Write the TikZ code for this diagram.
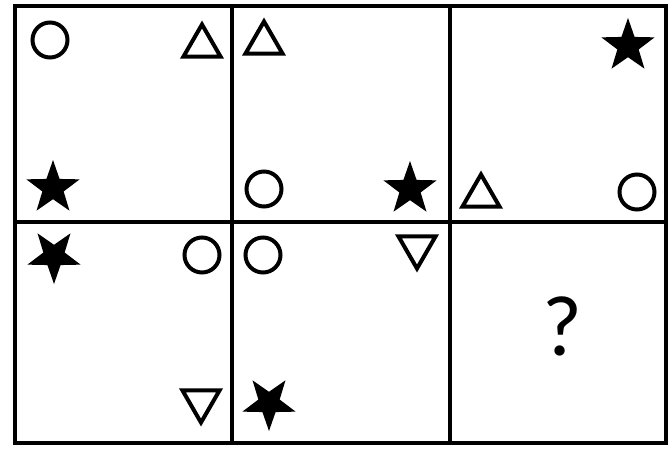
\documentclass[tikz,border=0pt]{standalone}
\usepackage{fontspec}
\setmainfont{Carlito}
\usetikzlibrary{shapes.geometric}

\begin{document}
\begin{tikzpicture}[
    x={(1pt,0pt)},
    y={(0pt,-1pt)},
    line join=miter,
    grid/.style={line width=3.6pt},
    circ/.style={circle,draw,line width=4pt,inner sep=0pt,minimum size=35pt},
    triup/.style={regular polygon,regular polygon sides=3,draw,line width=4pt,
        inner sep=0pt,minimum size=43pt},
    tridown/.style={triup,shape border rotate=180},
    starup/.style={star,star points=5,star point ratio=2.5,fill,inner sep=0pt,
        minimum size=56pt},
    stardown/.style={starup,shape border rotate=180},
    qmark/.style={inner sep=0pt,font=\fontsize{86}{86}\selectfont}
]

% =========================================================
% Рамка
% =========================================================

\useasboundingbox (0,0) rectangle (669,457);

\def\xa{15}    % левый край
\def\xb{232}   % первая вертикаль
\def\xc{450}   % вторая вертикаль
\def\xd{666}   % правый край
\def\ya{6}     % верх
\def\yb{222}   % середина
\def\yc{443}   % низ

\coordinate (NW) at (\xa,\ya);
\coordinate (SE) at (\xd,\yc);

% =========================================================
% Сетка 2x3
% =========================================================

\draw[grid] (NW) rectangle (SE);
\draw[grid] (\xb,\ya)--(\xb,\yc);
\draw[grid] (\xc,\ya)--(\xc,\yc);
\draw[grid] (\xa,\yb)--(\xd,\yb);

% =========================================================
% Первая строка
% =========================================================

\node[circ]   (c11) at (50,40)   {};
\node[triup]  (t11) at (202,46)  {};
\node[starup] (s11) at (53,188)  {};

\node[triup]  (t12) at (264,43)  {};
\node[circ]   (c12) at (264,189) {};
\node[starup] (s12) at (410,189) {};

\node[starup] (s13) at (628,46)  {};
\node[triup]  (t13) at (481,196) {};
\node[circ]   (c13) at (637,192) {};

% =========================================================
% Вторая строка
% =========================================================

\node[stardown] (s21) at (54,256)  {};
\node[circ]     (c21) at (202,255) {};
\node[tridown]  (t21) at (201,401) {};

\node[circ]     (c22) at (263,255) {};
\node[tridown]  (t22) at (417,247) {};
\node[stardown] (s22) at (269,403) {};

% =========================================================
% Неизвестная клетка
% =========================================================

\node[qmark] (q) at (562,326) {?};

\end{tikzpicture}
\end{document}
